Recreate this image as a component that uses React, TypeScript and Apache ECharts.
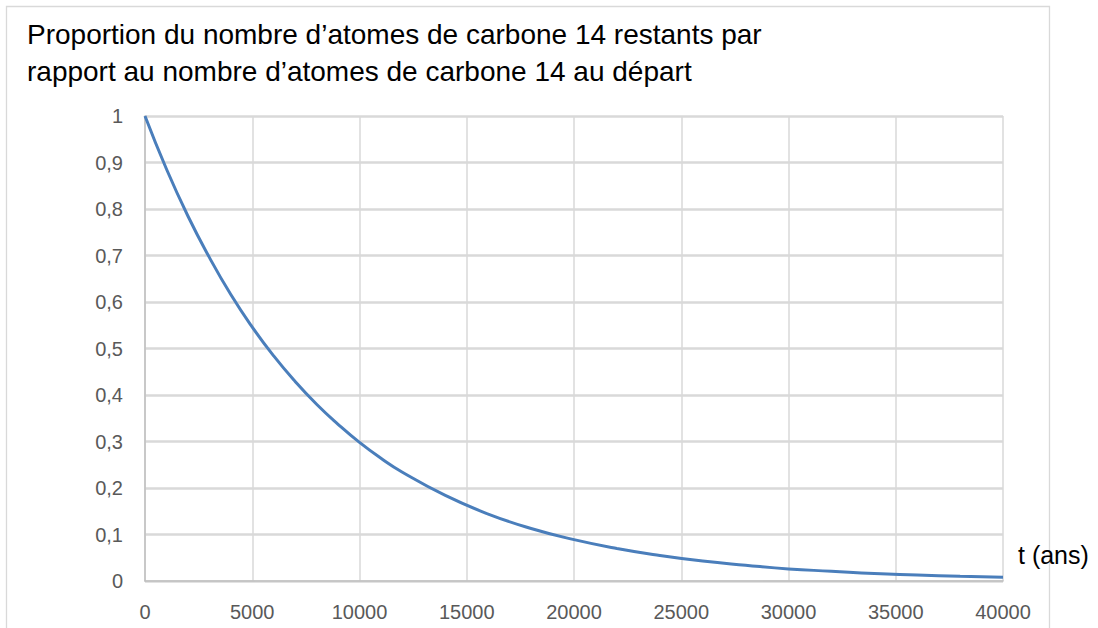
import React, { useEffect, useRef } from "react";
import * as echarts from "echarts";

const titleLines = [
  "Proportion du nombre d’atomes de carbone 14 restants par",
  "rapport au nombre d’atomes de carbone 14 au départ",
];
const xAxisLabel = "t (ans)";
const years = [0, 1000, 2000, 3000, 4000, 5000, 6000, 7000, 8000, 9000, 10000, 11000, 12000, 14000, 16000, 18000, 20000, 22000, 24000, 26000, 28000, 30000, 32000, 34000, 36000, 38000, 40000];
const proportion = [1, 0.886, 0.785, 0.696, 0.616, 0.546, 0.484, 0.429, 0.38, 0.337, 0.298, 0.264, 0.234, 0.184, 0.144, 0.113, 0.089, 0.07, 0.055, 0.043, 0.034, 0.026, 0.021, 0.016, 0.013, 0.01, 0.008];

export default function App() {
  const ref = useRef<HTMLDivElement>(null);
  useEffect(() => {
    if (!ref.current) return;
    const chart = echarts.init(ref.current, undefined, { renderer: "svg" });
    const fontFamily = "'Liberation Sans', Arial, sans-serif";
    chart.setOption({
      animation: false,
      backgroundColor: "#ffffff",
      grid: { left: 145, right: 95, top: 116, bottom: 47, outerBoundsMode: "none", containLabel: false },
      xAxis: {
        type: "value",
        min: 0,
        max: 40000,
        interval: 5000,
        axisLine: { show: true, lineStyle: { color: "#bfbfbf", width: 1.5 } },
        axisTick: { show: false },
        axisLabel: {
          color: "#595959",
          fontSize: 20,
          fontFamily,
          margin: 21,
          formatter: (v: number) => String(v),
        },
        splitLine: { show: true, lineStyle: { color: "#d9d9d9", width: 1.5 } },
      },
      yAxis: {
        type: "value",
        min: 0,
        max: 1,
        interval: 0.1,
        axisLine: { show: true, lineStyle: { color: "#bfbfbf", width: 1.5 } },
        axisTick: { show: false },
        axisLabel: {
          color: "#595959",
          fontSize: 20,
          fontFamily,
          margin: 22,
          formatter: (v: number) => String(Math.round(v * 10) / 10).replace(".", ","),
        },
        splitLine: { show: true, lineStyle: { color: "#d9d9d9", width: 2.5 } },
      },
      series: [
        {
          type: "line",
          data: years.map((y, i) => [y, proportion[i]]),
          smooth: true,
          showSymbol: false,
          lineStyle: { color: "#4a7ebb", width: 3 },
        },
      ],
      graphic: [
        {
          type: "rect",
          shape: { x: 6.5, y: 6.5, width: 1043, height: 700 },
          style: { fill: "none", stroke: "#d9d9d9", lineWidth: 1.3 },
          silent: true,
        },
        {
          type: "text",
          x: 27,
          y: 34,
          style: { text: titleLines[0], fill: "#000000", fontSize: 28, fontFamily, verticalAlign: "middle" },
        },
        {
          type: "text",
          x: 27,
          y: 71,
          style: { text: titleLines[1], fill: "#000000", fontSize: 28, fontFamily, verticalAlign: "middle" },
        },
        {
          type: "text",
          x: 1018,
          y: 555,
          style: { text: xAxisLabel, fill: "#000000", fontSize: 25, fontFamily, verticalAlign: "middle" },
        },
      ],
    });
    return () => chart.dispose();
  }, []);
  return <div ref={ref} style={{ position: "fixed", left: 0, top: 0, width: 1098, height: 628 }} />;
}
